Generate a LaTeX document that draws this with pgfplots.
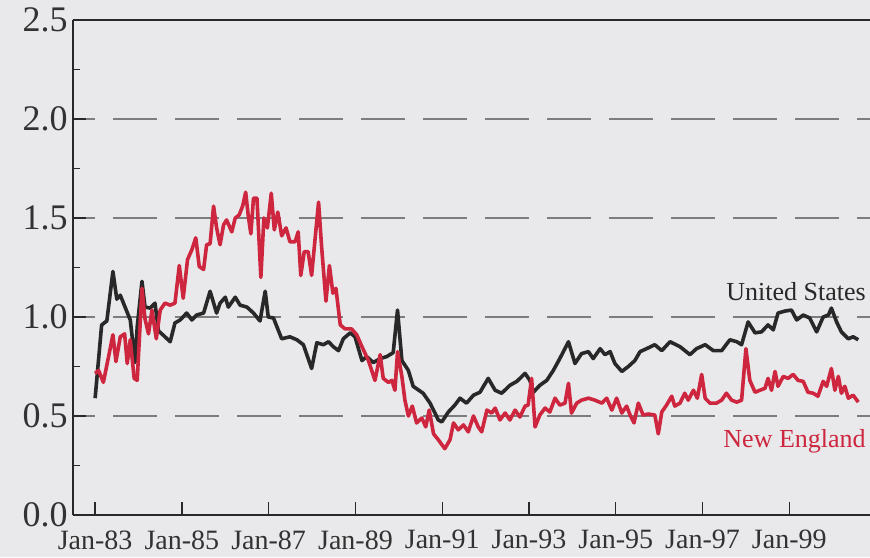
\documentclass[border=0pt]{standalone}
\usepackage{fontspec}
\setmainfont{Liberation Serif}
\usepackage{pgfplots}
\pgfplotsset{compat=1.18}
\definecolor{bgcol}{RGB}{233,233,235}
\definecolor{uscol}{RGB}{40,40,40}
\definecolor{necol}{RGB}{205,38,62}
\definecolor{txtcol}{RGB}{50,50,50}
\definecolor{gridcol}{RGB}{125,125,125}

\begin{document}
\begin{tikzpicture}
  \path[use as bounding box, fill=bgcol] (-36.5pt,-21pt) rectangle (398.5pt,257.5pt);
  \begin{axis}[
    at={(0,0)}, anchor=south west,
    scale only axis,
    width=398.5pt, height=247.5pt,
    xmin=1982.49, xmax=2000.86,
    ymin=0, ymax=2.5,
    axis x line*=bottom, axis y line*=left,
    axis line style={-, line width=1.2pt, color=uscol},
    tick align=inside,
    xtick={1983,1985,1987,1989,1991,1993,1995,1997,1999},
    xticklabels={Jan-83,Jan-85,Jan-87,Jan-89,Jan-91,Jan-93,Jan-95,Jan-97,Jan-99},
    ytick={0,0.5,1,1.5,2,2.5},
    minor y tick num=1,
    major tick length=6.5pt, minor tick length=3.5pt,
    tick style={line width=0.7pt, color=uscol},
    ymajorgrids,
    grid style={gridcol, line width=0.9pt, dash pattern=on 22pt off 9pt, dash phase=11pt},
    yticklabel style={font=\fontsize{18}{20}\selectfont, text=txtcol, inner sep=0pt, anchor=east, xshift=-2.5pt},
    xticklabel style={font=\fontsize{14}{16}\selectfont, text=txtcol, inner sep=0pt, anchor=north, yshift=-7.5pt},
    /pgf/number format/.cd, fixed, fixed zerofill, precision=1, assume math mode=true,
  ]
    % United States
    \addplot[uscol, line width=1.8pt, line join=round] table {
      1983.00 0.59
      1983.15 0.96
      1983.27 0.98
      1983.41 1.23
      1983.50 1.09
      1983.58 1.11
      1983.69 1.05
      1983.81 0.985
      1983.92 0.77
      1983.97 0.95
      1984.08 1.18
      1984.15 1.05
      1984.27 1.045
      1984.38 1.07
      1984.46 0.93
      1984.61 0.90
      1984.73 0.875
      1984.84 0.97
      1984.96 0.985
      1985.11 1.02
      1985.23 0.985
      1985.34 1.01
      1985.50 1.02
      1985.65 1.13
      1985.80 1.02
      1985.88 1.07
      1986.00 1.10
      1986.07 1.05
      1986.23 1.10
      1986.34 1.06
      1986.50 1.05
      1986.65 1.02
      1986.80 0.98
      1986.92 1.13
      1986.99 1.00
      1987.11 0.995
      1987.30 0.89
      1987.49 0.90
      1987.65 0.885
      1987.80 0.86
      1987.99 0.74
      1988.11 0.87
      1988.26 0.86
      1988.38 0.875
      1988.49 0.85
      1988.61 0.83
      1988.72 0.89
      1988.88 0.92
      1988.99 0.90
      1989.15 0.78
      1989.26 0.80
      1989.41 0.77
      1989.57 0.79
      1989.72 0.80
      1989.87 0.82
      1989.97 1.035
      1990.07 0.78
      1990.22 0.73
      1990.33 0.65
      1990.56 0.615
      1990.72 0.565
      1990.91 0.48
      1990.99 0.47
      1991.14 0.52
      1991.29 0.555
      1991.41 0.59
      1991.56 0.565
      1991.72 0.605
      1991.87 0.62
      1992.06 0.69
      1992.22 0.63
      1992.37 0.615
      1992.56 0.655
      1992.72 0.675
      1992.91 0.715
      1993.02 0.68
      1993.10 0.62
      1993.25 0.655
      1993.41 0.68
      1993.56 0.73
      1993.71 0.79
      1993.91 0.875
      1994.06 0.765
      1994.21 0.815
      1994.37 0.825
      1994.48 0.79
      1994.64 0.84
      1994.75 0.81
      1994.87 0.825
      1994.98 0.765
      1995.14 0.725
      1995.29 0.75
      1995.44 0.78
      1995.56 0.825
      1995.71 0.84
      1995.90 0.86
      1996.06 0.83
      1996.25 0.875
      1996.48 0.85
      1996.71 0.81
      1996.86 0.84
      1997.06 0.86
      1997.25 0.83
      1997.44 0.83
      1997.63 0.885
      1997.79 0.875
      1997.90 0.86
      1998.05 0.975
      1998.21 0.92
      1998.36 0.925
      1998.51 0.96
      1998.63 0.935
      1998.74 1.02
      1998.90 1.03
      1999.05 1.035
      1999.17 0.985
      1999.32 1.01
      1999.47 0.995
      1999.63 0.925
      1999.78 1.00
      1999.90 1.01
      1999.97 1.045
      2000.09 0.975
      2000.20 0.925
      2000.36 0.89
      2000.47 0.90
      2000.59 0.885
    };
    % New England
    \addplot[necol, line width=1.8pt, line join=round] table {
      1983.00 0.715
      1983.08 0.73
      1983.19 0.67
      1983.31 0.80
      1983.41 0.91
      1983.48 0.775
      1983.58 0.90
      1983.68 0.915
      1983.74 0.765
      1983.81 0.885
      1983.90 0.69
      1983.97 0.68
      1984.08 1.145
      1984.15 0.99
      1984.23 0.915
      1984.31 1.035
      1984.41 0.89
      1984.50 1.035
      1984.61 1.07
      1984.73 1.06
      1984.84 1.07
      1984.94 1.26
      1985.03 1.095
      1985.13 1.29
      1985.23 1.34
      1985.32 1.40
      1985.40 1.255
      1985.50 1.24
      1985.57 1.365
      1985.65 1.37
      1985.73 1.56
      1985.80 1.45
      1985.88 1.365
      1985.96 1.465
      1986.03 1.49
      1986.15 1.43
      1986.23 1.50
      1986.32 1.515
      1986.40 1.56
      1986.47 1.63
      1986.53 1.51
      1986.59 1.42
      1986.65 1.60
      1986.73 1.60
      1986.82 1.20
      1986.89 1.50
      1986.97 1.45
      1987.06 1.625
      1987.13 1.44
      1987.21 1.53
      1987.30 1.41
      1987.40 1.45
      1987.49 1.38
      1987.61 1.38
      1987.68 1.43
      1987.74 1.21
      1987.82 1.33
      1987.91 1.33
      1987.99 1.21
      1988.15 1.58
      1988.22 1.355
      1988.32 1.08
      1988.40 1.26
      1988.48 1.12
      1988.55 1.145
      1988.65 0.96
      1988.76 0.94
      1988.91 0.94
      1989.03 0.91
      1989.15 0.85
      1989.30 0.78
      1989.45 0.68
      1989.57 0.81
      1989.64 0.69
      1989.76 0.67
      1989.84 0.68
      1989.91 0.63
      1989.97 0.825
      1990.07 0.70
      1990.14 0.58
      1990.22 0.50
      1990.31 0.55
      1990.41 0.465
      1990.53 0.49
      1990.62 0.445
      1990.70 0.53
      1990.80 0.41
      1990.91 0.38
      1991.06 0.335
      1991.18 0.38
      1991.26 0.465
      1991.37 0.43
      1991.49 0.455
      1991.60 0.42
      1991.72 0.50
      1991.83 0.445
      1991.91 0.42
      1992.03 0.53
      1992.14 0.515
      1992.22 0.54
      1992.33 0.48
      1992.45 0.515
      1992.56 0.48
      1992.68 0.53
      1992.79 0.495
      1992.91 0.55
      1992.98 0.555
      1993.06 0.69
      1993.14 0.445
      1993.25 0.505
      1993.37 0.54
      1993.48 0.52
      1993.60 0.59
      1993.71 0.555
      1993.83 0.565
      1993.91 0.665
      1993.98 0.515
      1994.10 0.565
      1994.21 0.58
      1994.37 0.59
      1994.52 0.58
      1994.68 0.565
      1994.79 0.59
      1994.91 0.53
      1995.02 0.59
      1995.14 0.515
      1995.25 0.55
      1995.33 0.505
      1995.42 0.465
      1995.52 0.565
      1995.63 0.505
      1995.75 0.51
      1995.90 0.505
      1995.98 0.41
      1996.06 0.52
      1996.17 0.555
      1996.29 0.60
      1996.36 0.55
      1996.48 0.565
      1996.59 0.615
      1996.67 0.58
      1996.79 0.63
      1996.88 0.59
      1996.98 0.71
      1997.06 0.59
      1997.17 0.565
      1997.32 0.565
      1997.44 0.58
      1997.55 0.615
      1997.67 0.58
      1997.79 0.57
      1997.90 0.58
      1998.00 0.84
      1998.09 0.68
      1998.21 0.62
      1998.32 0.63
      1998.44 0.64
      1998.51 0.69
      1998.59 0.63
      1998.67 0.725
      1998.74 0.65
      1998.86 0.70
      1998.97 0.69
      1999.09 0.71
      1999.20 0.68
      1999.32 0.675
      1999.43 0.62
      1999.55 0.615
      1999.66 0.60
      1999.78 0.675
      1999.86 0.65
      1999.97 0.74
      2000.05 0.63
      2000.13 0.70
      2000.20 0.615
      2000.28 0.65
      2000.36 0.59
      2000.47 0.605
      2000.59 0.57
    };
    \draw[uscol, line width=1.2pt] (rel axis cs:0,1) -- (rel axis cs:1,1);
    \node[anchor=east, inner sep=0pt, text=uscol, font=\fontsize{13}{15}\selectfont] at (axis cs:2000.77,1.13) {United States};
    \node[anchor=east, inner sep=0pt, text=necol, font=\fontsize{13}{15}\selectfont] at (axis cs:2000.77,0.374) {New England};
  \end{axis}
\end{tikzpicture}
\end{document}
